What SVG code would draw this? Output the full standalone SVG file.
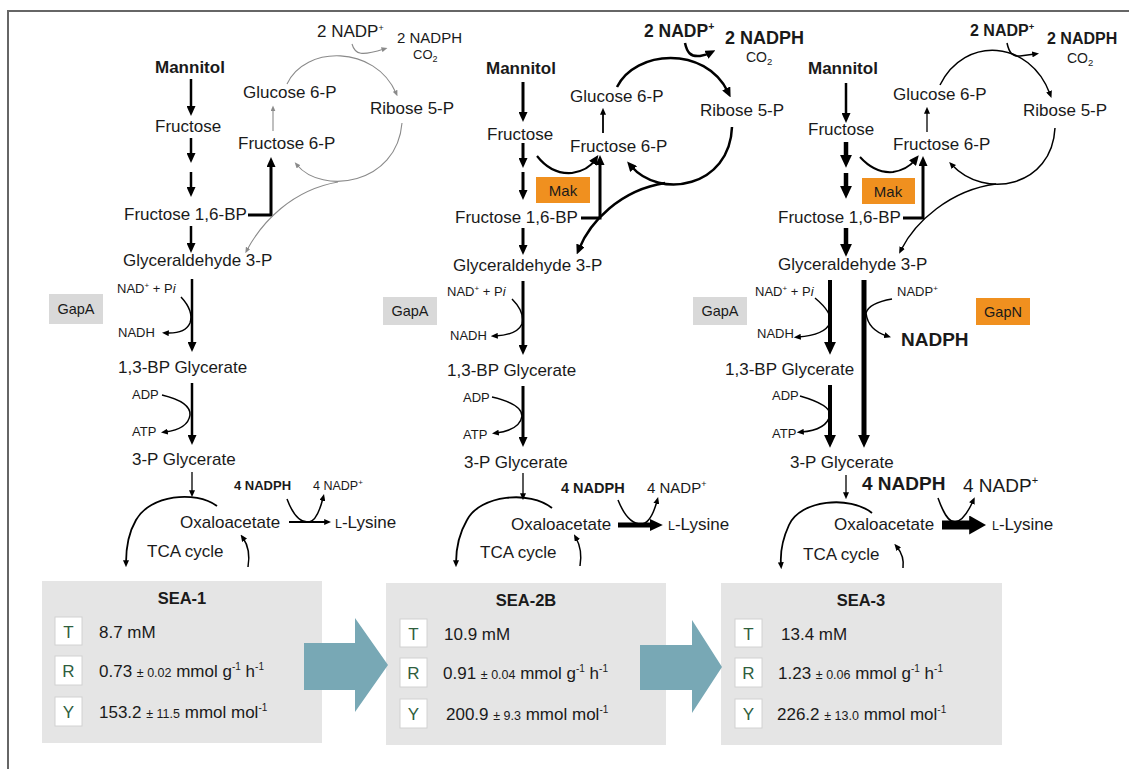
<svg xmlns="http://www.w3.org/2000/svg" width="1129" height="769" viewBox="0 0 1129 769">
<style>
  text { font-family: "Liberation Sans", Arial, sans-serif; fill: #1a1a1a; }
  .t { font-size: 17px; }
  .s { font-size: 13px; }
  .b { font-weight: bold; }
  .k { fill: none; stroke: #000; }
  .g { fill: none; stroke: #8a8a8a; stroke-width: 1.1; }
  .enz-g { fill: #d9d9d9; }
  .enz-o { fill: #f0901f; }
  .panel { fill: #e5e5e5; }
  .cell { fill: #fff; stroke: #d2d2d2; stroke-width: 1; }
  .lt { font-size: 17px; fill: #2f5e3d; text-anchor: middle; }
  .val { font-size: 17px; }
  .pm { font-size: 12.5px; }
  .step { fill: #78a8b5; }
</style>
<defs>
  <marker id="ah-g" viewBox="0 0 10 10" refX="4" refY="5" markerUnits="userSpaceOnUse" markerWidth="6" markerHeight="5" orient="auto" preserveAspectRatio="none"><path d="M0,0L10,5L0,10z" fill="#8a8a8a"/></marker>
  <marker id="ah-s" viewBox="0 0 10 10" refX="4" refY="5" markerUnits="userSpaceOnUse" markerWidth="7" markerHeight="6" orient="auto" preserveAspectRatio="none"><path d="M0,0L10,5L0,10z" fill="#000"/></marker>
  <marker id="ah-m" viewBox="0 0 10 10" refX="4" refY="5" markerUnits="userSpaceOnUse" markerWidth="10" markerHeight="9" orient="auto" preserveAspectRatio="none"><path d="M0,0L10,5L0,10z" fill="#000"/></marker>
  <marker id="ah-l" viewBox="0 0 10 10" refX="4" refY="5" markerUnits="userSpaceOnUse" markerWidth="13" markerHeight="12" orient="auto" preserveAspectRatio="none"><path d="M0,0L10,5L0,10z" fill="#000"/></marker>
  <marker id="ah-xl" viewBox="0 0 10 10" refX="4" refY="5" markerUnits="userSpaceOnUse" markerWidth="17" markerHeight="19" orient="auto" preserveAspectRatio="none"><path d="M0,0L10,5L0,10z" fill="#000"/></marker>
</defs>

<!-- frame -->
<g id="frame" fill="none" stroke="#666" stroke-width="2">
  <path d="M8,769 V11 H1129"/>
</g>

<!-- ===== connectors ===== -->
<g id="connectors">
  <!-- strain 1 -->
  <g id="c-sea1">
    <g class="k" stroke-width="2.5" marker-end="url(#ah-m)">
      <path d="M191,79 V110"/>
      <path d="M191,138 V157"/>
      <path d="M191,172 V191"/>
      <path d="M191,226 V247"/>
      <path d="M248,215 H271 V163" stroke-width="3"/>
      <path d="M192,279 V346"/>
      <path d="M192,383 V439"/>
    </g>
    <g class="g" marker-end="url(#ah-g)">
      <path d="M273,131 V109"/>
      <path d="M287,84 C305,45 375,45 396,93"/>
      <path d="M352,44 C355,55 362,56 384,49"/>
      <path d="M402,123 C397,185 322,195 297,165"/>
      <path d="M338,182 C292,190 262,222 247,250"/>
    </g>
    <g class="k" stroke-width="1.5" marker-end="url(#ah-s)">
      <path d="M181,297 Q194,311 190,323 Q185,334 166,333"/>
      <path d="M162,395 Q191,402 190,415 Q188,429 165,432"/>
      <path d="M192,472 V493" stroke-width="1.3"/>
      <path d="M289,522 H327" stroke-width="1.8"/>
      <path d="M287,499 C293,515 300,523 309,522 C316,521 320,510 323,498"/>
      <path d="M217,506 C195,490 150,495 136,520 C129,532 126,548 126,563" stroke-width="1.8"/>
      <path d="M248,567 C250,555 248,545 243,538"/>
    </g>
  </g>
  <!-- strain 2B -->
  <g id="c-sea2b">
    <g class="k" stroke-width="3" marker-end="url(#ah-m)">
      <path d="M523,82 V116"/>
      <path d="M523,143 V162"/>
      <path d="M523,172 V194"/>
      <path d="M523,228 V249"/>
      <path d="M581,218 H600 V161"/>
      <path d="M523,281 V349"/>
      <path d="M523,386 V441"/>
      <path d="M537,156 C548,170 560,174 572,173 C585,171 591,166 595,160" stroke-width="2.2"/>
      <path d="M617,87 C635,50 705,45 728,92" stroke-width="2.5"/>
      <path d="M685,43 C687,52 690,57 700,56 C705,55 708,54 710,53" stroke-width="2.5"/>
      <path d="M732,127 C730,187 660,200 631,166" stroke-width="2.5"/>
      <path d="M665,183 C620,190 590,222 579,249" stroke-width="2.5"/>
    </g>
    <g class="k" stroke-width="1.5" marker-end="url(#ah-s)">
      <path d="M603,133 V112" stroke-width="1.8"/>
      <path d="M512,299 Q525,312 522,324 Q517,335 495,336"/>
      <path d="M492,397 Q522,404 522,416 Q520,430 496,433"/>
      <path d="M523,473 V496" stroke-width="1.3"/>
      <path d="M618,500 C624,515 632,524 641,524 C649,524 654,512 657,501"/>
      <path d="M552,508 C530,490 480,495 467,520 C460,532 456,548 456,563" stroke-width="1.8"/>
      <path d="M580,566 C582,554 580,545 576,538"/>
    </g>
    <path class="k" d="M618,525 H655" stroke-width="5" marker-end="url(#ah-l)"/>
  </g>
  <!-- strain 3 -->
  <g id="c-sea3">
    <g class="k" stroke-width="2.5" marker-end="url(#ah-m)">
      <path d="M846,83 V117"/>
      <path d="M903,218 H923 V162" stroke-width="3"/>
      <path d="M860,157 C870,168 882,173 893,172 C905,170 911,165 915,160" stroke-width="2"/>
    </g>
    <g class="k" stroke-width="4.5" marker-end="url(#ah-l)">
      <path d="M846,142 V160"/>
      <path d="M846,173 V191"/>
      <path d="M846,228 V249"/>
      <path d="M830,280 V347" stroke-width="4"/>
      <path d="M830,385 V440" stroke-width="4"/>
      <path d="M864,280 V440" stroke-width="5"/>
    </g>
    <g class="k" stroke-width="1.5" marker-end="url(#ah-s)">
      <path d="M927,132 V111" stroke-width="1.3"/>
      <path d="M940,85 C965,35 1030,40 1050,94"/>
      <path d="M1007,43 C1009,52 1012,57 1020,56 L1035,54"/>
      <path d="M1055,128 C1052,187 985,200 952,165"/>
      <path d="M996,184 C950,190 915,222 901,250"/>
      <path d="M815,298 Q833,313 830,323 Q825,335 798,337"/>
      <path d="M800,396 Q831,405 830,415 Q827,430 801,432"/>
      <path d="M892,299 Q869,303 866,313 Q868,330 887,336"/>
      <path d="M846,475 V495" stroke-width="1.3"/>
      <path d="M938,498 C943,512 948,522 955,522 C963,521 969,510 973,501"/>
      <path d="M872,513 C850,495 800,500 789,525 C783,538 780,552 781,565" stroke-width="1.8"/>
      <path d="M903,568 C904,560 902,553 897,547"/>
    </g>
    <path class="k" d="M942,525 H976" stroke-width="9" marker-end="url(#ah-xl)"/>
  </g>
</g>

<!-- ===== strain SEA-1 nodes ===== -->
<g id="sea1-nodes">
  <g id="s1-nadp"><text class="t" x="317" y="37" font-size="15">2 NADP<tspan dy="-6" font-size="9">+</tspan></text></g>
  <g id="s1-nadph"><text x="397" y="43" font-size="15">2 NADPH</text><text x="413" y="59" font-size="13">CO<tspan dy="3" font-size="9">2</tspan></text></g>
  <g id="s1-mannitol"><text class="t b" x="155" y="73">Mannitol</text></g>
  <g id="s1-fructose"><text class="t" x="155" y="132">Fructose</text></g>
  <g id="s1-fbp"><text class="t" x="124" y="220">Fructose 1,6-BP</text></g>
  <g id="s1-g3p"><text class="t" x="123" y="266">Glyceraldehyde 3-P</text></g>
  <g id="s1-g6p"><text class="t" x="243" y="98" font-size="15.5">Glucose 6-P</text></g>
  <g id="s1-f6p"><text class="t" x="238" y="149">Fructose 6-P</text></g>
  <g id="s1-r5p"><text class="t" x="370" y="114">Ribose 5-P</text></g>
  <g id="s1-gapa"><rect class="enz-g" x="49" y="294" width="54" height="30"/><text x="76" y="314" font-size="14.5" text-anchor="middle">GapA</text></g>
  <g id="s1-nad"><text class="s" x="117" y="293">NAD<tspan dy="-5" font-size="8">+</tspan><tspan dy="5"> + P</tspan><tspan font-style="italic">i</tspan></text></g>
  <g id="s1-nadh"><text class="s" x="118" y="337">NADH</text></g>
  <g id="s1-bpg"><text class="t" x="118" y="373">1,3-BP Glycerate</text></g>
  <g id="s1-adp"><text class="s" x="132" y="399">ADP</text><text class="s" x="132" y="436">ATP</text></g>
  <g id="s1-3pg"><text class="t" x="132" y="465">3-P Glycerate</text></g>
  <g id="s1-4nadph"><text class="b" x="234" y="490" font-size="13">4 NADPH</text><text x="313" y="490" font-size="12.5">4 NADP<tspan dy="-5" font-size="8">+</tspan></text></g>
  <g id="s1-oaa"><text class="t" x="180" y="528">Oxaloacetate</text></g>
  <g id="s1-lys"><text class="t" x="335" y="528"><tspan font-size="12.5">L</tspan>-Lysine</text></g>
  <g id="s1-tca"><text class="t" x="147" y="557">TCA cycle</text></g>
</g>

<!-- ===== strain SEA-2B nodes ===== -->
<g id="sea2b-nodes">
  <g id="s2-nadp"><text class="b" x="644" y="37" font-size="17.5">2 NADP<tspan dy="-7" font-size="10.5">+</tspan></text></g>
  <g id="s2-nadph"><text class="b" x="725" y="44" font-size="18">2 NADPH</text><text x="746" y="62" font-size="14">CO<tspan dy="3" font-size="9.5">2</tspan></text></g>
  <g id="s2-mannitol"><text class="t b" x="486" y="74">Mannitol</text></g>
  <g id="s2-fructose"><text class="t" x="487" y="140">Fructose</text></g>
  <g id="s2-fbp"><text class="t" x="455" y="223">Fructose 1,6-BP</text></g>
  <g id="s2-g3p"><text class="t" x="453" y="271">Glyceraldehyde 3-P</text></g>
  <g id="s2-g6p"><text class="t" x="570" y="102">Glucose 6-P</text></g>
  <g id="s2-f6p"><text class="t" x="570" y="152">Fructose 6-P</text></g>
  <g id="s2-r5p"><text class="t" x="700" y="116">Ribose 5-P</text></g>
  <g id="s2-mak"><rect class="enz-o" x="536" y="177" width="54" height="26"/><text x="563" y="196" font-size="15" text-anchor="middle">Mak</text></g>
  <g id="s2-gapa"><rect class="enz-g" x="383" y="297" width="54" height="28"/><text x="410" y="316" font-size="14.5" text-anchor="middle">GapA</text></g>
  <g id="s2-nad"><text class="s" x="447" y="296">NAD<tspan dy="-5" font-size="8">+</tspan><tspan dy="5"> + P</tspan><tspan font-style="italic">i</tspan></text></g>
  <g id="s2-nadh"><text class="s" x="450" y="340">NADH</text></g>
  <g id="s2-bpg"><text class="t" x="447" y="376">1,3-BP Glycerate</text></g>
  <g id="s2-adp"><text class="s" x="463" y="402">ADP</text><text class="s" x="463" y="439">ATP</text></g>
  <g id="s2-3pg"><text class="t" x="464" y="468">3-P Glycerate</text></g>
  <g id="s2-4nadph"><text class="b" x="561" y="493" font-size="14.5">4 NADPH</text><text x="647" y="493" font-size="15">4 NADP<tspan dy="-6" font-size="9">+</tspan></text></g>
  <g id="s2-oaa"><text class="t" x="511" y="530">Oxaloacetate</text></g>
  <g id="s2-lys"><text class="t" x="668" y="530"><tspan font-size="12.5">L</tspan>-Lysine</text></g>
  <g id="s2-tca"><text class="t" x="480" y="558">TCA cycle</text></g>
</g>

<!-- ===== strain SEA-3 nodes ===== -->
<g id="sea3-nodes">
  <g id="s3-nadp"><text class="b" x="970" y="36" font-size="16">2 NADP<tspan dy="-6" font-size="9.5">+</tspan></text></g>
  <g id="s3-nadph"><text class="b" x="1047" y="44" font-size="16">2 NADPH</text><text x="1067" y="63" font-size="14">CO<tspan dy="3" font-size="9.5">2</tspan></text></g>
  <g id="s3-mannitol"><text class="t b" x="808" y="74">Mannitol</text></g>
  <g id="s3-fructose"><text class="t" x="808" y="135">Fructose</text></g>
  <g id="s3-fbp"><text class="t" x="778" y="223">Fructose 1,6-BP</text></g>
  <g id="s3-g3p"><text class="t" x="778" y="270">Glyceraldehyde 3-P</text></g>
  <g id="s3-g6p"><text class="t" x="893" y="100">Glucose 6-P</text></g>
  <g id="s3-f6p"><text class="t" x="893" y="150">Fructose 6-P</text></g>
  <g id="s3-r5p"><text class="t" x="1023" y="116">Ribose 5-P</text></g>
  <g id="s3-mak"><rect class="enz-o" x="862" y="178" width="53" height="26"/><text x="888" y="197" font-size="15" text-anchor="middle">Mak</text></g>
  <g id="s3-gapa"><rect class="enz-g" x="693" y="297" width="54" height="28"/><text x="720" y="316" font-size="14.5" text-anchor="middle">GapA</text></g>
  <g id="s3-nad"><text class="s" x="755" y="296">NAD<tspan dy="-5" font-size="8">+</tspan><tspan dy="5"> + P</tspan><tspan font-style="italic">i</tspan></text></g>
  <g id="s3-nadh"><text class="s" x="757" y="338">NADH</text></g>
  <g id="s3-nadp2"><text class="s" x="897" y="296">NADP<tspan dy="-5" font-size="8">+</tspan></text></g>
  <g id="s3-gapn"><rect class="enz-o" x="976" y="298" width="54" height="27"/><text x="1003" y="317" font-size="14.5" text-anchor="middle">GapN</text></g>
  <g id="s3-nadph2"><text class="b" x="901" y="346" font-size="19">NADPH</text></g>
  <g id="s3-bpg"><text class="t" x="725" y="375">1,3-BP Glycerate</text></g>
  <g id="s3-adp"><text class="s" x="772" y="400">ADP</text><text class="s" x="772" y="438">ATP</text></g>
  <g id="s3-3pg"><text class="t" x="790" y="468">3-P Glycerate</text></g>
  <g id="s3-4nadph"><text class="b" x="862" y="490" font-size="19">4 NADPH</text><text x="963" y="492" font-size="19">4 NADP<tspan dy="-8" font-size="11">+</tspan></text></g>
  <g id="s3-oaa"><text class="t" x="834" y="530">Oxaloacetate</text></g>
  <g id="s3-lys"><text class="t" x="992" y="530"><tspan font-size="12.5">L</tspan>-Lysine</text></g>
  <g id="s3-tca"><text class="t" x="803" y="560">TCA cycle</text></g>
</g>

<!-- ===== strain summary panels ===== -->
<g id="summary-sea1">
  <rect class="panel" x="42" y="581" width="280" height="162"/>
  <text class="b" x="182" y="604" font-size="16.5" text-anchor="middle">SEA-1</text>
  <rect class="cell" x="55" y="617" width="27" height="28"/><text class="lt" x="68.5" y="638">T</text>
  <rect class="cell" x="55" y="656" width="27" height="29"/><text class="lt" x="68.5" y="677">R</text>
  <rect class="cell" x="55" y="697" width="27" height="29"/><text class="lt" x="68.5" y="718">Y</text>
  <text class="val" x="99" y="638">8.7 mM</text>
  <text class="val" x="99" y="677">0.73 <tspan class="pm">± 0.02</tspan> mmol g<tspan dy="-7" font-size="10">-1</tspan><tspan dy="7"> h</tspan><tspan dy="-7" font-size="10">-1</tspan></text>
  <text class="val" x="99" y="718">153.2 <tspan class="pm">± 11.5</tspan> mmol mol<tspan dy="-7" font-size="10">-1</tspan></text>
</g>
<g id="summary-sea2b">
  <rect class="panel" x="386" y="583" width="280" height="162"/>
  <text class="b" x="526" y="606" font-size="16.5" text-anchor="middle">SEA-2B</text>
  <rect class="cell" x="400" y="619" width="27" height="28"/><text class="lt" x="413.5" y="640">T</text>
  <rect class="cell" x="400" y="658" width="27" height="29"/><text class="lt" x="413.5" y="679">R</text>
  <rect class="cell" x="400" y="699" width="27" height="29"/><text class="lt" x="413.5" y="720">Y</text>
  <text class="val" x="444" y="640">10.9 mM</text>
  <text class="val" x="443" y="679">0.91 <tspan class="pm">± 0.04</tspan> mmol g<tspan dy="-7" font-size="10">-1</tspan><tspan dy="7"> h</tspan><tspan dy="-7" font-size="10">-1</tspan></text>
  <text class="val" x="446" y="720">200.9 <tspan class="pm">± 9.3</tspan> mmol mol<tspan dy="-7" font-size="10">-1</tspan></text>
</g>
<g id="summary-sea3">
  <rect class="panel" x="721" y="583" width="281" height="162"/>
  <text class="b" x="861" y="606" font-size="16.5" text-anchor="middle">SEA-3</text>
  <rect class="cell" x="735" y="619" width="27" height="28"/><text class="lt" x="748.5" y="640">T</text>
  <rect class="cell" x="735" y="658" width="27" height="29"/><text class="lt" x="748.5" y="679">R</text>
  <rect class="cell" x="735" y="699" width="27" height="29"/><text class="lt" x="748.5" y="720">Y</text>
  <text class="val" x="781" y="640">13.4 mM</text>
  <text class="val" x="778" y="679">1.23 <tspan class="pm">± 0.06</tspan> mmol g<tspan dy="-7" font-size="10">-1</tspan><tspan dy="7"> h</tspan><tspan dy="-7" font-size="10">-1</tspan></text>
  <text class="val" x="777" y="720">226.2 <tspan class="pm">± 13.0</tspan> mmol mol<tspan dy="-7" font-size="10">-1</tspan></text>
</g>
<g id="progression">
  <polygon class="step" points="304,643 355,643 355,618 388,665 355,712 355,690 304,690"/>
  <polygon class="step" points="640,645 692,645 692,620 722,667 692,713 692,690 640,690"/>
</g>
</svg>
